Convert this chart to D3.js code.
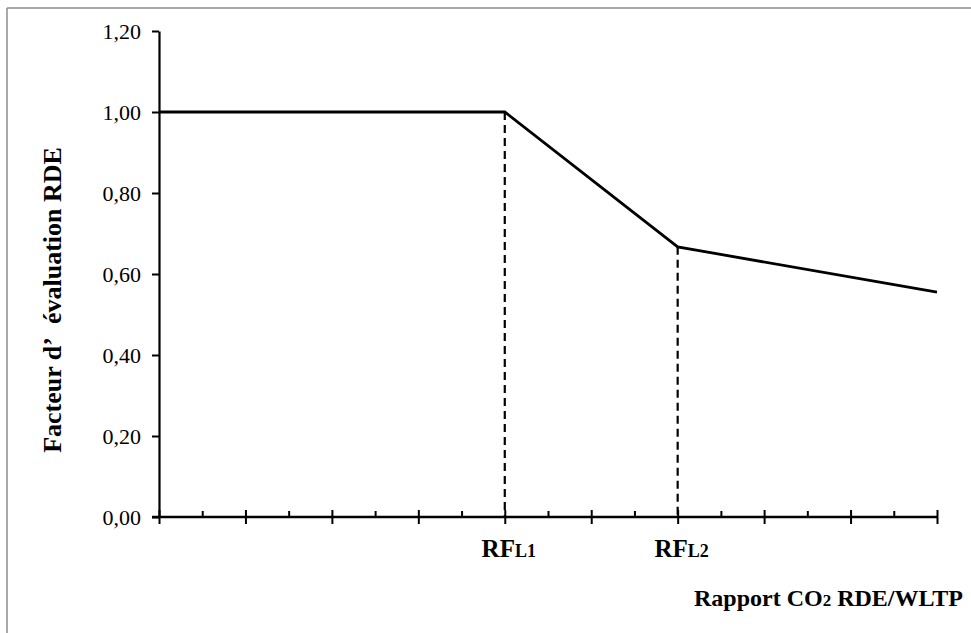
<!DOCTYPE html>
<html>
<head>
<meta charset="utf-8">
<script src="https://cdn.jsdelivr.net/npm/d3@7"></script>
<style>
  html, body { margin: 0; padding: 0; background: #fff; }
  svg { display: block; font-family: "Liberation Serif", "DejaVu Serif", serif; }
</style>
</head>
<body>
<svg id="chart" width="971" height="633"></svg>
<script>
// ---- data ----
const xPoints = [0, 4, 6, 9];                 // position along the ratio axis (tick units)
const yPoints = [1.00, 1.00, 0.667, 0.555];   // RDE evaluation factor
const refPositions = [4, 6];                   // RF_L1, RF_L2
const refValues = [1.00, 0.667];
const refMain = ["RF", "RF"];
const refSubs = ["L1", "L2"];
const yTickValues = [0, 0.2, 0.4, 0.6, 0.8, 1.0, 1.2];
const xMajorTicks = [0, 1, 2, 3, 4, 5, 6, 7, 8, 9];
const xMinorTicks = [0.5, 1.5, 2.5, 3.5, 4.5, 5.5, 6.5, 7.5, 8.5];
const yTitle = "Facteur d\u2019\u2002évaluation RDE";
const xTitleMain = "Rapport CO";
const xTitleSub = "2";
const xTitleRest = " RDE/WLTP";

const svg = d3.select("#chart");

// frame (gray top and left edges)
svg.append("line").attr("x1", 7).attr("y1", 8).attr("x2", 971).attr("y2", 8)
  .attr("stroke", "#8c8c8c").attr("stroke-width", 1.5);
svg.append("line").attr("x1", 7).attr("y1", 8).attr("x2", 7).attr("y2", 633)
  .attr("stroke", "#8c8c8c").attr("stroke-width", 1.5);

const x = d3.scaleLinear().domain([0, 9]).range([159, 937]);
const y = d3.scaleLinear().domain([0, 1.2]).range([517, 31]);

const loc = d3.formatLocale({decimal: ",", thousands: " ", grouping: [3], currency: ["", ""]});
const fmt = loc.format(".2f");

// y axis
const gy = svg.append("g").attr("transform", `translate(${x(0)},0)`)
  .call(d3.axisLeft(y).tickValues(yTickValues).tickFormat(fmt).tickSizeInner(7).tickSizeOuter(0).tickPadding(11));
gy.select(".domain").attr("stroke", "#000").attr("stroke-width", 2.2);
gy.selectAll(".tick line").attr("stroke", "#000").attr("stroke-width", 2);
gy.selectAll(".tick text").attr("font-size", 22).attr("fill", "#000")
  .attr("font-family", "'Liberation Serif', serif");

// x axis: major ticks below
const gx = svg.append("g").attr("transform", `translate(0,${y(0)})`)
  .call(d3.axisBottom(x).tickValues(xMajorTicks).tickFormat("").tickSizeInner(7).tickSizeOuter(0));
gx.select(".domain").attr("stroke", "#000").attr("stroke-width", 2.4)
  .attr("d", `M${x(0) - 7},0H${x(9)}`);
gx.selectAll(".tick line").attr("stroke", "#000").attr("stroke-width", 2);

// major ticks above
const gxt = svg.append("g").attr("transform", `translate(0,${y(0)})`)
  .call(d3.axisTop(x).tickValues(xMajorTicks).tickFormat("").tickSizeInner(7).tickSizeOuter(0));
gxt.select(".domain").remove();
gxt.selectAll(".tick line").attr("stroke", "#000").attr("stroke-width", 2);

// minor ticks above
const gxm = svg.append("g").attr("transform", `translate(0,${y(0)})`)
  .call(d3.axisTop(x).tickValues(xMinorTicks).tickFormat("").tickSizeInner(6).tickSizeOuter(0));
gxm.select(".domain").remove();
gxm.selectAll(".tick line").attr("stroke", "#000").attr("stroke-width", 2);

// dashed reference lines
svg.selectAll("line.ref").data(refPositions).enter().append("line")
  .attr("class", "ref")
  .attr("x1", d => x(d)).attr("x2", d => x(d))
  .attr("y1", (d, i) => y(refValues[i])).attr("y2", y(0))
  .attr("stroke", "#000").attr("stroke-width", 2.2).attr("stroke-dasharray", "8,5");

// data line
const pts = xPoints.map((d, i) => [d, yPoints[i]]);
svg.append("path").datum(pts)
  .attr("fill", "none").attr("stroke", "#000").attr("stroke-width", 2.8)
  .attr("stroke-linejoin", "miter")
  .attr("d", d3.line().x(d => x(d[0])).y(d => y(d[1])));

// reference labels
const lbl = svg.selectAll("text.ref").data(refPositions).enter().append("text")
  .attr("class", "ref")
  .attr("x", d => x(d) + 4).attr("y", 557)
  .attr("text-anchor", "middle").attr("font-weight", "bold").attr("font-size", 25).attr("fill", "#000");
lbl.append("tspan").text((d, i) => refMain[i]);
lbl.append("tspan").attr("font-size", 18).text((d, i) => refSubs[i]);

// y title
svg.append("text")
  .attr("transform", "translate(61,300) rotate(-90)")
  .attr("text-anchor", "middle").attr("font-weight", "bold").attr("font-size", 26).attr("fill", "#000")
  .text(yTitle);

// x title
const xt = svg.append("text")
  .attr("x", 963).attr("y", 606)
  .attr("text-anchor", "end").attr("font-weight", "bold").attr("font-size", 24).attr("fill", "#000");
xt.append("tspan").text(xTitleMain);
xt.append("tspan").attr("font-size", 17).text(xTitleSub);
xt.append("tspan").text(xTitleRest);
</script>
</body>
</html>
